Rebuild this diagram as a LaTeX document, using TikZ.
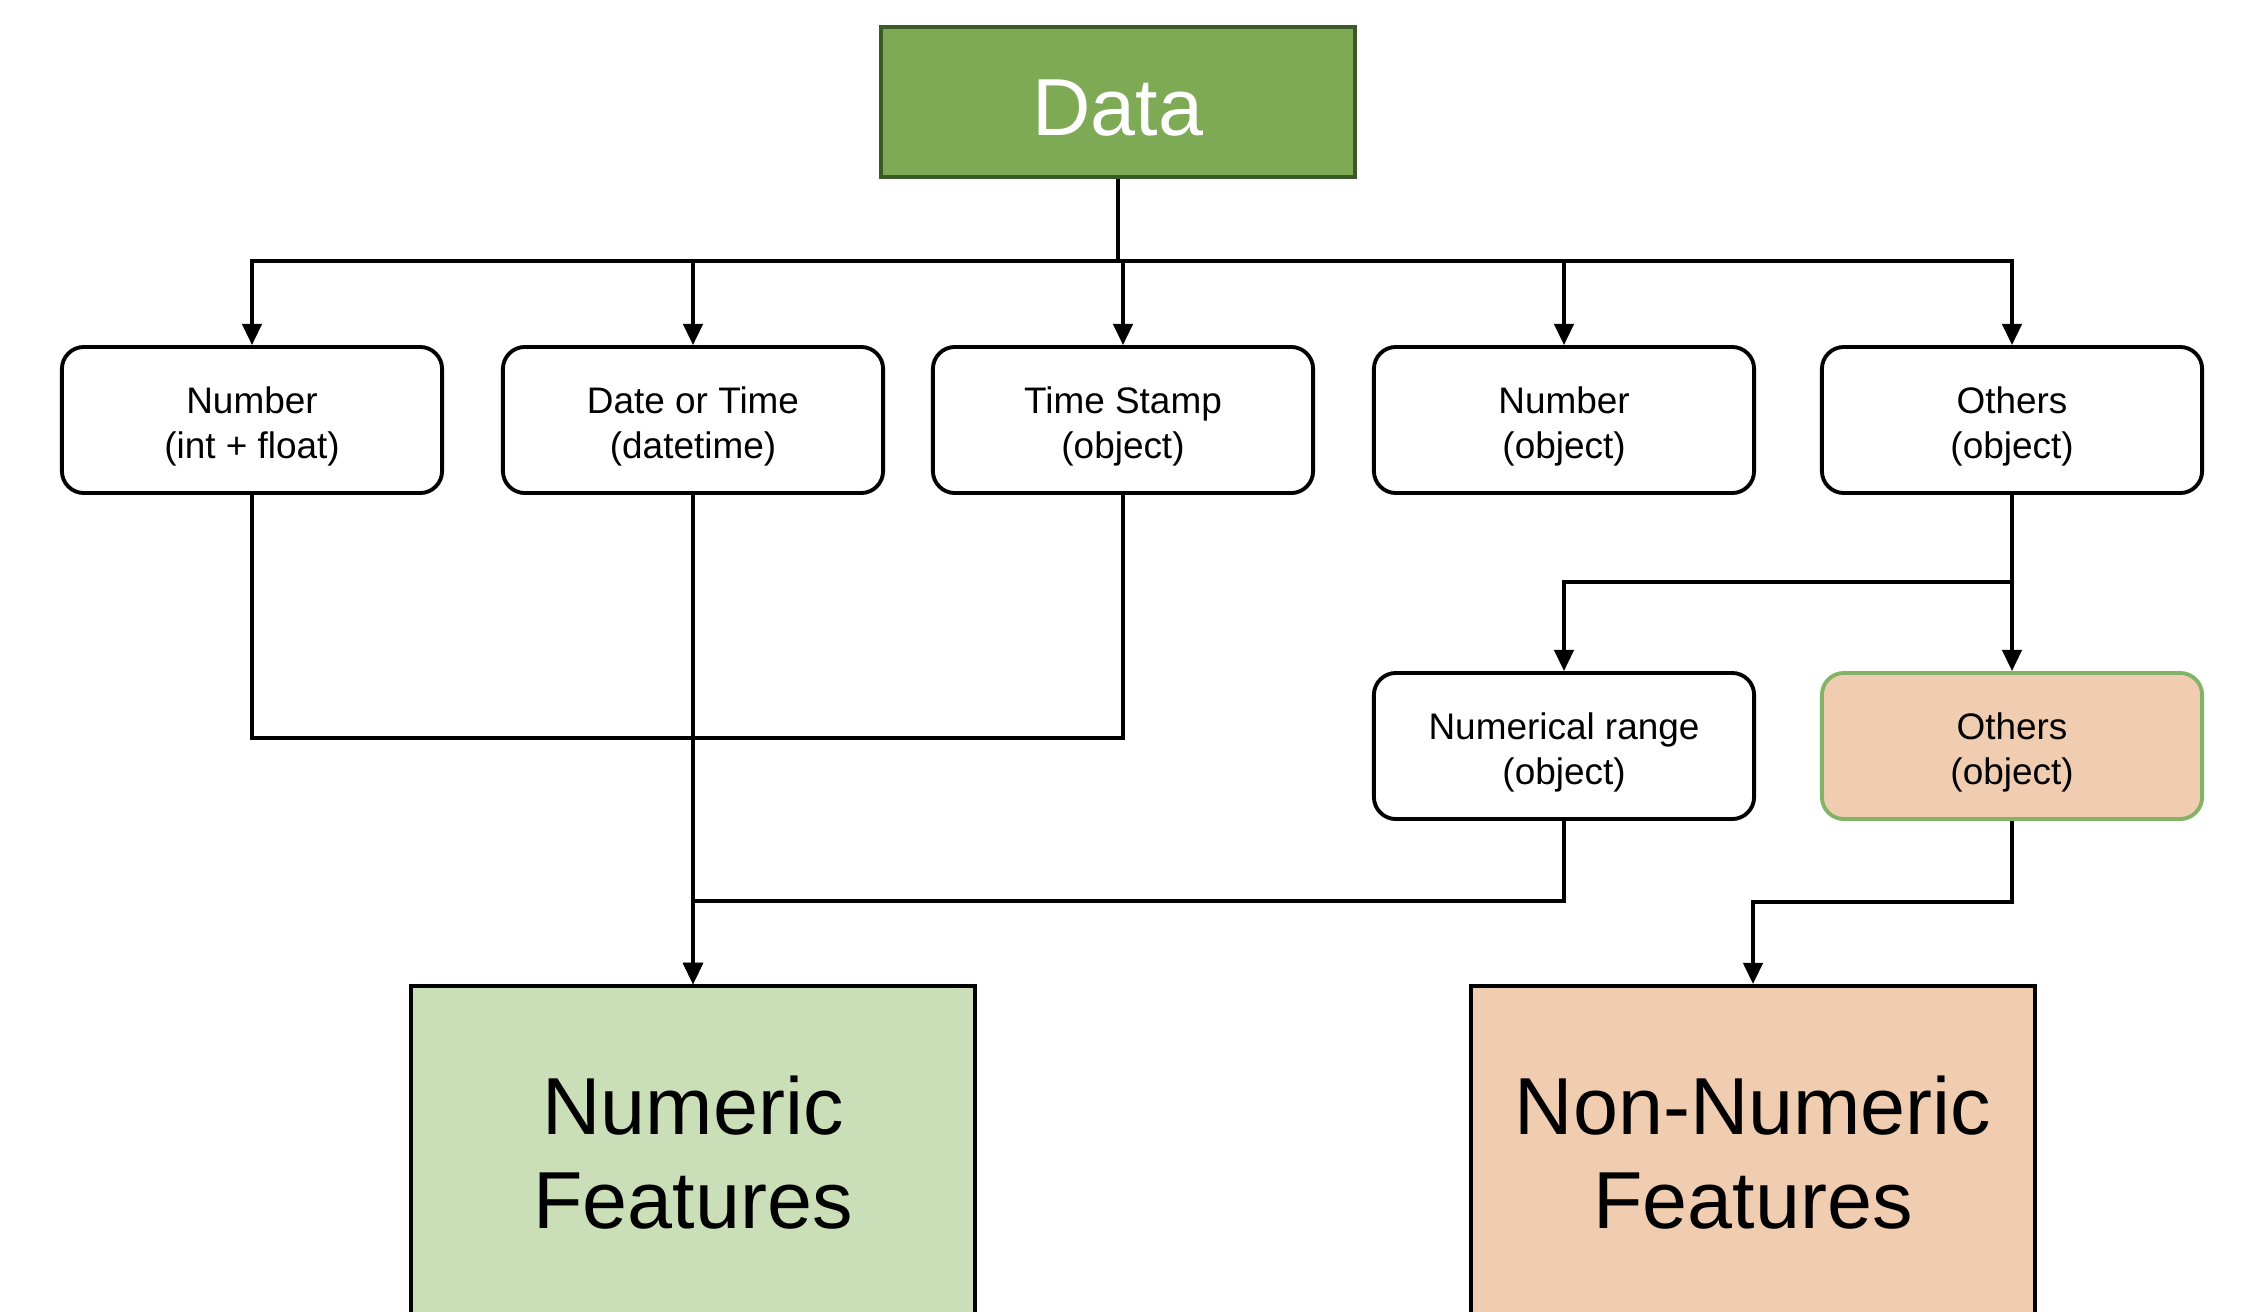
\documentclass[tikz,border=0pt]{standalone}
\usepackage{fontspec}
\setmainfont{Liberation Sans}
\usetikzlibrary{arrows.meta,calc}
\definecolor{datafill}{HTML}{7EAA55}
\definecolor{datadraw}{HTML}{3B5927}
\definecolor{numfill}{HTML}{CADFB7}
\definecolor{nonfill}{HTML}{F0CDB0}
\definecolor{othdraw}{HTML}{82B366}
\newcommand{\lift}{\rule{0pt}{11.2pt}}
\begin{document}
\begin{tikzpicture}[x=0.01cm,y=-0.01cm,
  conn/.style={line width=1pt,draw=black},
  arr/.style={conn,-{Triangle[width=5.5pt,length=6pt]}},
  rbox/.style={draw=black,line width=1.1pt,rounded corners=0.22cm,minimum width=3.8cm,minimum height=1.46cm,align=center,font=\fontsize{10.5}{12.7}\selectfont,inner sep=0pt,fill=white},
  databox/.style={draw=datadraw,fill=datafill,line width=1.3pt,minimum width=4.74cm,minimum height=1.5cm,text=white,font=\fontsize{23}{27}\selectfont,inner sep=0pt},
  feat/.style={draw=black,line width=1.1pt,minimum height=3.34cm,align=center,font=\fontsize{23}{26.7}\selectfont,inner sep=0pt}
]
\clip (0,0) rectangle (2260,1312);
\useasboundingbox (0,0) rectangle (2260,1312);

\node[databox] (data) at (1118,102) {\rule{0pt}{19pt}Data};

\node[rbox] (n1) at (252,420) {\lift Number\\(int + float)};
\node[rbox] (n2) at (693,420) {\lift Date or Time\\(datetime)};
\node[rbox] (n3) at (1123,420) {\lift Time Stamp\\(object)};
\node[rbox] (n4) at (1564,420) {\lift Number\\(object)};
\node[rbox] (n5) at (2012,420) {\lift Others\\(object)};

\node[rbox] (nr) at (1564,746) {\lift Numerical range\\(object)};
\node[rbox,fill=nonfill,draw=othdraw] (oth) at (2012,746) {\lift Others\\(object)};

\node[feat,fill=numfill,minimum width=5.64cm] (numf) at (693,1153) {Numeric\\Features};
\node[feat,fill=nonfill,minimum width=5.63cm] (nonf) at (1753,1153) {Non-Numeric\\Features};

\coordinate (bus) at (0,261);
\foreach \c in {n1,n2,n3,n4,n5}
  \draw[arr] (data.south) -- (data.south |- bus) -| (\c.north);

\coordinate (j1) at (0,582);
\draw[arr] (n5.south) -- (n5.south |- j1) -| (nr.north);
\draw[arr] (n5.south) -- (oth.north);

\coordinate (j2) at (0,738);
\draw[arr] (n1.south) -- (n1.south |- j2) -| (numf.north);
\draw[arr] (n3.south) -- (n3.south |- j2) -| (numf.north);
\draw[arr] (n2.south) -- (numf.north);

\coordinate (j3) at (0,901);
\draw[arr] (nr.south) -- (nr.south |- j3) -| (numf.north);

\coordinate (j4) at (0,902);
\draw[arr] (oth.south) -- (oth.south |- j4) -| (nonf.north);
\end{tikzpicture}
\end{document}
